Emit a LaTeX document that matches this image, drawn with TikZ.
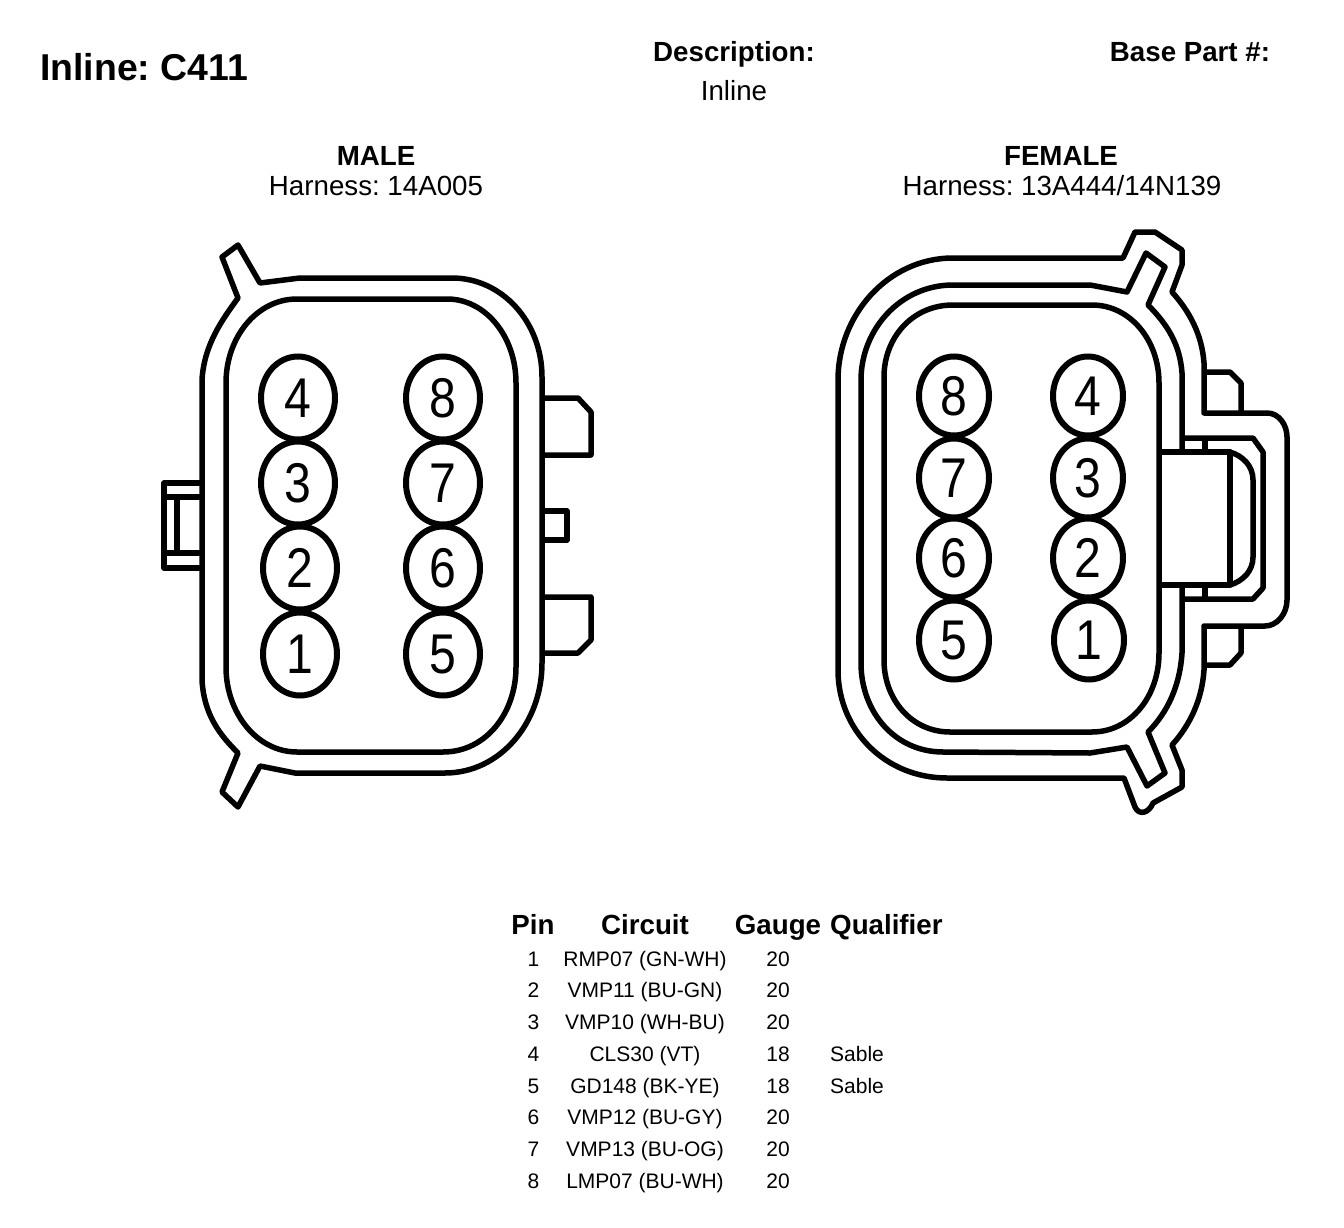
\documentclass[tikz,border=0pt]{standalone}
\usepackage{fontspec}
\setmainfont{Liberation Sans}
\newfontfamily\pinfont[FakeStretch=0.86]{Liberation Sans}
\usetikzlibrary{shapes.geometric}

\begin{document}
\frenchspacing
\begin{tikzpicture}[x=1pt, y=-1pt,
    outline/.style={line width=5.5pt, line join=round},
    titletext/.style={anchor=base, inner sep=0pt, font=\bfseries\fontsize{27.7}{30}\selectfont},
    subtext/.style={anchor=base, inner sep=0pt, font=\fontsize{27.7}{30}\selectfont},
    rowtext/.style={anchor=base, inner sep=0pt, font=\fontsize{21}{24}\selectfont},
    malepin/.style={ellipse, draw, line width=6pt, inner sep=0pt, outer sep=0pt,
        minimum width=74pt, minimum height=83pt, text depth=0pt,
        font=\pinfont\fontsize{56}{56}\selectfont},
    femalepin/.style={malepin, minimum width=70pt, minimum height=79pt}]
    \useasboundingbox (0,0) rectangle (1344,1228);

    % headings
    \path
        node (title) at (40,81) [titletext, anchor=base west, font=\bfseries\fontsize{37.4}{40}\selectfont] {Inline: C411}
        node (desc) at (734,62) [titletext] {Description:}
        node (descval) at (734,101) [subtext] {Inline}
        node (basepart) at (1190,62) [titletext] {Base Part \#:}
        node (male) at (376,165) [titletext] {MALE}
        node (maleharness) at (376,195) [subtext] {Harness: 14A005}
        node (female) at (1061,165) [titletext] {FEMALE}
        node (femaleharness) at (1062,195) [subtext] {Harness: 13A444/14N139};

    % male connector
    \draw[outline] (238,298) -- (222,257) -- (238,245) -- (260,283) -- (300,278) -- (452,278)
        .. controls (502,278) and (542,322) .. (542,377) -- (542,663)
        .. controls (542,723) and (500,773) .. (445,773) -- (295,773) -- (260,766)
        -- (238,807) -- (222,792) -- (238,753)
        .. controls (220,735) and (204,715) .. (202,680) -- (202,380)
        .. controls (204,345) and (222,320) .. (238,298) -- cycle;
    \draw[outline] (297,299) -- (447,299)
        .. controls (486,299) and (516,337) .. (516,383) -- (516,667)
        .. controls (516,713) and (486,752) .. (443,752) -- (297,752)
        .. controls (257,752) and (226,713) .. (226,667) -- (226,383)
        .. controls (226,337) and (257,299) .. (297,299) -- cycle;
    % left clip
    \draw[outline] (202,483) -- (164,483) -- (164,568) -- (202,568);
    \draw[outline] (164,497) -- (202,497);
    \draw[outline] (164,553) -- (202,553);
    \draw[outline] (177,497) -- (177,553);
    % right tabs
    \draw[outline] (542,398) -- (578,398) -- (591,412) -- (591,455) -- (542,455);
    \draw[outline] (542,511) -- (567,511) -- (567,540) -- (542,540);
    \draw[outline] (542,597) -- (591,597) -- (591,640) -- (578,653) -- (542,653);

    \path
        node (m4) at (298,398) [malepin] {4}
        node (m3) at (298,483) [malepin] {3}
        node (m2) at (300,568) [malepin] {2}
        node (m1) at (300,654) [malepin] {1}
        node (m8) at (443,398) [malepin] {8}
        node (m7) at (443,483) [malepin] {7}
        node (m6) at (443,568) [malepin] {6}
        node (m5) at (443,654) [malepin] {5};

    % female connector
    \draw[outline] (953,258) -- (1123,258) -- (1135,232) -- (1155,232) -- (1182,250) -- (1182,265) -- (1172,292)
        .. controls (1190,312) and (1202,335) .. (1204,363) -- (1204,413) -- (1267,413)
        .. controls (1279,413) and (1287,425) .. (1287,437) -- (1287,600)
        .. controls (1287,614) and (1277,626) .. (1265,626) -- (1204,626) -- (1204,670)
        .. controls (1202,700) and (1190,725) .. (1172,745) -- (1182,770) -- (1182,787) -- (1153,803)
        .. controls (1149,813) and (1139,816) .. (1135,807) -- (1124,778) -- (947,778)
        .. controls (885,778) and (838,730) .. (838,670) -- (838,380)
        .. controls (838,315) and (888,258) .. (953,258) -- cycle;
    \draw[outline] (1182,450) -- (1182,373)
        .. controls (1180,345) and (1168,325) .. (1148,305) -- (1165,267) -- (1146,253) -- (1127,292) -- (1090,285)
        -- (953,285) .. controls (900,285) and (861,330) .. (861,380) -- (861,663)
        .. controls (861,712) and (895,752) .. (943,752) -- (1090,753) -- (1127,747) -- (1147,786) -- (1165,773)
        -- (1148,732) .. controls (1168,712) and (1180,685) .. (1182,653) -- (1182,588);
    \draw[outline] (953,305) -- (1092,305)
        .. controls (1130,305) and (1159,340) .. (1159,383) -- (1159,653)
        .. controls (1159,697) and (1130,732) .. (1092,732) -- (950,732)
        .. controls (912,732) and (884,700) .. (884,660) -- (884,377)
        .. controls (884,338) and (912,305) .. (953,305) -- cycle;
    % latch block
    \draw[outline] (1159,452) -- (1230,452) -- (1230,585) -- (1159,585);
    \draw[outline] (1230,452) .. controls (1243,456) and (1253,466) .. (1253,480) -- (1253,557)
        .. controls (1253,571) and (1243,581) .. (1230,585);
    \draw[outline] (1182,438) -- (1253,438) -- (1263,452) -- (1263,588) -- (1253,599) -- (1182,599);
    \draw[outline] (1205,438) -- (1205,452);
    \draw[outline] (1205,585) -- (1205,599);
    % small tabs
    \draw[outline] (1204,372) -- (1230,372) -- (1241,383) -- (1241,413);
    \draw[outline] (1241,626) -- (1241,653) -- (1230,665) -- (1204,665);

    \path
        node (f8) at (954,396) [femalepin] {8}
        node (f7) at (954,478) [femalepin] {7}
        node (f6) at (954,558) [femalepin] {6}
        node (f5) at (954,640) [femalepin] {5}
        node (f4) at (1088,396) [femalepin] {4}
        node (f3) at (1088,478) [femalepin] {3}
        node (f2) at (1088,558) [femalepin] {2}
        node (f1) at (1089,640) [femalepin] {1};

    % table
    \path
        node (hpin) at (533,934) [titletext] {Pin}
        node (hcircuit) at (645,934) [titletext] {Circuit}
        node (hgauge) at (778,934) [titletext] {Gauge}
        node (hqual) at (830,934) [titletext, anchor=base west] {Qualifier};
    \path
        node (p1) at (533.5,966.5) [rowtext] {1}
        node (c1) at (645,966.5) [rowtext] {RMP07 (GN-WH)}
        node (g1) at (778,966.5) [rowtext] {20}
        node (p2) at (533.5,997.5) [rowtext] {2}
        node (c2) at (645,997.5) [rowtext] {VMP11 (BU-GN)}
        node (g2) at (778,997.5) [rowtext] {20}
        node (p3) at (533.5,1029.5) [rowtext] {3}
        node (c3) at (645,1029.5) [rowtext] {VMP10 (WH-BU)}
        node (g3) at (778,1029.5) [rowtext] {20}
        node (p4) at (533.5,1061.5) [rowtext] {4}
        node (c4) at (645,1061.5) [rowtext] {CLS30 (VT)}
        node (g4) at (778,1061.5) [rowtext] {18}
        node (q4) at (830,1061.5) [rowtext, anchor=base west] {Sable}
        node (p5) at (533.5,1093.5) [rowtext] {5}
        node (c5) at (645,1093.5) [rowtext] {GD148 (BK-YE)}
        node (g5) at (778,1093.5) [rowtext] {18}
        node (q5) at (830,1093.5) [rowtext, anchor=base west] {Sable}
        node (p6) at (533.5,1124.5) [rowtext] {6}
        node (c6) at (645,1124.5) [rowtext] {VMP12 (BU-GY)}
        node (g6) at (778,1124.5) [rowtext] {20}
        node (p7) at (533.5,1156.5) [rowtext] {7}
        node (c7) at (645,1156.5) [rowtext] {VMP13 (BU-OG)}
        node (g7) at (778,1156.5) [rowtext] {20}
        node (p8) at (533.5,1188.5) [rowtext] {8}
        node (c8) at (645,1188.5) [rowtext] {LMP07 (BU-WH)}
        node (g8) at (778,1188.5) [rowtext] {20};
\end{tikzpicture}
\end{document}
